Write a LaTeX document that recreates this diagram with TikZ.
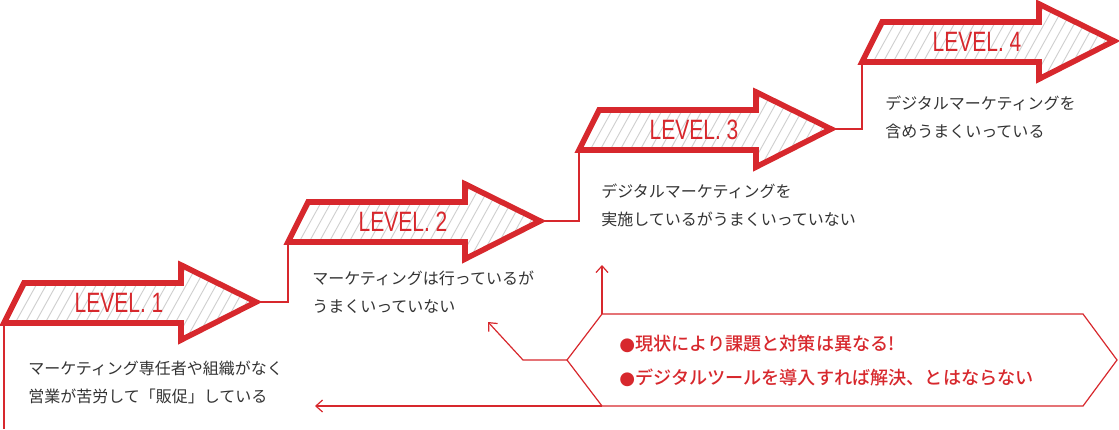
\documentclass[tikz,border=0pt]{standalone}
\usepackage{fontspec}
\setmainfont{Noto Sans CJK JP}
\newfontfamily\lvfont[FakeStretch=0.75]{Liberation Sans}
\newfontfamily\medfont{Noto Sans CJK JP Medium}
\usetikzlibrary{arrows.meta}
\definecolor{rd}{HTML}{D7282D}
\definecolor{tx}{HTML}{333333}
\definecolor{ht}{HTML}{CFCFCF}
\tikzset{
  lvl/.style={text=rd,font=\lvfont\fontsize{21}{21}\selectfont,inner sep=0pt},
  desc/.style={text=tx,font=\fontsize{12}{21}\selectfont,align=left,anchor=north west,inner sep=0pt},
  conn/.style={draw=rd,line width=0.9pt},
  arr/.style={conn,-{Straight Barb[length=5pt,width=9pt]}},
}
\newcommand\lvarrow[4]{% x0 y0 name label
  \coordinate (#3bl) at (#1,#2);
  \coordinate (#3tip) at (#1+252,#2-21);
  \begin{scope}
  \clip (#1,#2) -- (#1+20,#2-40) -- (#1+177,#2-40) -- (#1+177,#2-58) -- (#1+252,#2-21) -- (#1+177,#2+17) -- (#1+177,#2) -- cycle;
  \foreach \k in {-60,-50,...,260} \draw[ht,line width=0.7pt] (#1+\k,#2+20) -- (#1+\k+50,#2-70);
  \end{scope}
  \draw[rd,line width=4.2pt,line join=miter] (#1,#2) -- (#1+20,#2-40) -- (#1+177,#2-40) -- (#1+177,#2-58) -- (#1+252,#2-21) -- (#1+177,#2+17) -- (#1+177,#2) -- cycle;
  \node[lvl] (#3) at (#1+115,#2-20) {#4};
}
\begin{document}
\begin{tikzpicture}[x=0.75pt,y=-0.75pt]
\useasboundingbox (0,0) rectangle (1119,429);
\lvarrow{4}{323}{la}{LEVEL. 1}
\lvarrow{288}{242}{lb}{LEVEL. 2}
\lvarrow{579}{150}{lc}{LEVEL. 3}
\lvarrow{862}{62}{ld}{LEVEL. 4}
\coordinate (bot) at (4,429);
\draw[conn] (labl) -- (bot);
\draw[conn] (latip) -| (lbbl);
\draw[conn] (lbtip) -| (lcbl);
\draw[conn] (lctip) -| (ldbl);
\node[desc] (ta) at (28,361) {マーケティング専任者や組織がなく\\営業が苦労して「販促」している};
\node[desc] (tb) at (312,271) {マーケティングは行っているが\\うまくいっていない};
\node[desc] (tc) at (601,184) {デジタルマーケティングを\\実施しているがうまくいっていない};
\node[desc] (td) at (885,96) {デジタルマーケティングを\\含めうまくいっている};
% hexagon
\coordinate (hl) at (567,360);
\coordinate (htl) at (602,314);
\coordinate (hbl) at (602,406);
\draw[conn] (hl) -- (htl) -- (1083,314) -- (1117,360) -- (1083,406) -- (hbl) -- cycle;
\node[text=rd,font=\medfont\fontsize{13.6}{26}\selectfont,align=left,anchor=west,inner sep=0pt] (hx) at (619,361)
  {{\fontspec{DejaVu Sans}●}現状により課題と対策は異なる!\\{\fontspec{DejaVu Sans}●}デジタルツールを導入すれば解決、とはならない};
\coordinate (up) at (602,265);
\coordinate (mk) at (523,360);
\coordinate (dg) at (488,322);
\coordinate (lf) at (315,406);
\draw[arr] (htl) -- (up);
\draw[arr] (hl) -- (mk) -- (dg);
\draw[arr] (hbl) -- (lf);
\end{tikzpicture}
\end{document}
